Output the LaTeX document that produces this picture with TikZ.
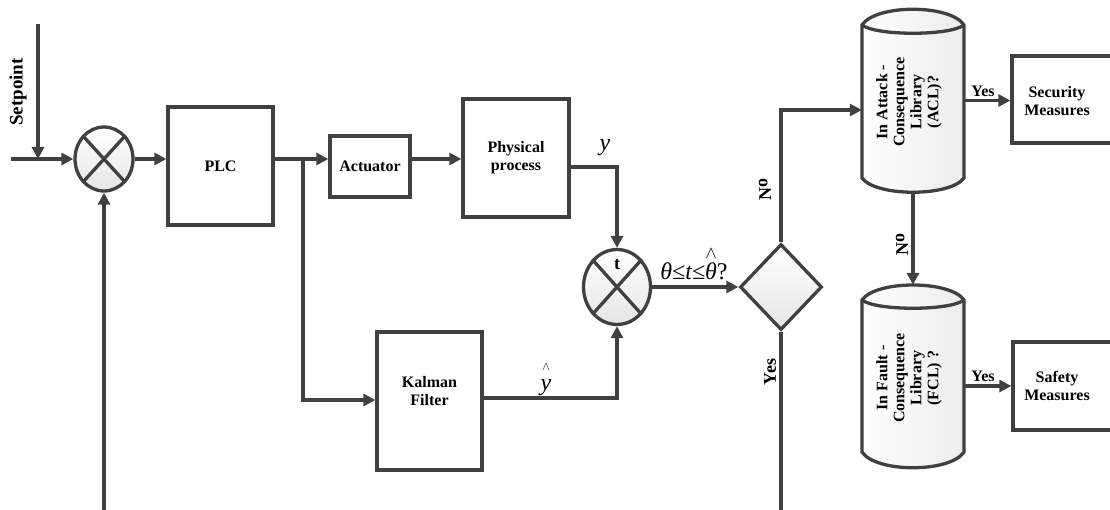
\documentclass[tikz,border=0pt]{standalone}
\usepackage{fontspec}
\setmainfont{Liberation Serif}
\usepackage{amsmath}
\usetikzlibrary{arrows.meta,shapes.geometric,shadows}
\definecolor{ln}{HTML}{404040}
\newcommand\hatover[1]{\ensuremath{\overset{\scriptstyle\wedge}{\text{#1}}}}
\tikzset{
 conn/.style={draw=ln,line width=3.3pt},
 arr/.style={conn,-{Triangle[length=12pt,width=12pt]}},
 blk/.style={rectangle,draw=ln,line width=3.3pt,fill=white,inner sep=0pt,
   drop shadow={shadow xshift=2pt,shadow yshift=-2pt,fill=gray!35,opacity=1},
   font=\bfseries\fontsize{16}{18}\selectfont,align=center},
 lbl/.style={font=\bfseries\fontsize{16}{18}\selectfont,align=center,text=black},
 sumj/.style={ellipse,draw=ln,line width=3.3pt,top color=white,bottom color=gray!20,inner sep=0pt},
 vlab/.style={font=\bfseries\fontsize{18}{20}\selectfont,rotate=90,text=black},
 clab/.style={font=\bfseries\fontsize{16}{17}\selectfont,rotate=90,align=center,text=black},
 mlab/.style={font=\fontsize{24}{26}\selectfont,text=black},
 cylshape/.style={draw=ln,line width=3.3pt,left color=white,right color=gray!15},
 ghost/.style={rectangle,draw=none,inner sep=0pt},
}
\begin{document}
\begin{tikzpicture}[x=1pt,y=1pt]
\useasboundingbox (0,0) rectangle (1110,-510);
\clip (0,0) rectangle (1110,-510);

% ---- summing junction 1 and inputs
\node[sumj,minimum width=58pt,minimum height=64pt] (s1) at (104,-159) {};
\draw[conn] (s1.north west) -- (s1.south east) (s1.north east) -- (s1.south west);
\coordinate (in) at (11,-159);
\coordinate (sp) at (38,-24);
\coordinate (fb) at (104,-515);
\draw[arr] (in) -- (s1.west);
\draw[arr] (sp) -- (sp |- in);
\draw[arr] (fb) -- (s1.south);
\node[font=\bfseries\fontsize{19}{20}\selectfont,rotate=90] (spt) at (18,-92) {Setpoint};

% ---- PLC, actuator, process
\node[blk,minimum width=105pt,minimum height=118pt] (plc) at (220.5,-166) {PLC};
\draw[arr] (s1.east) -- (s1.east -| plc.west);
\coordinate (br) at (303,-159);
\node[blk,minimum width=80pt,minimum height=61pt] (act) at (370,-166.5) {Actuator};
\draw[conn] (plc.east |- br) -- (br);
\draw[arr] (br) -- (br -| act.west);
\node[blk,minimum width=106pt,minimum height=118pt] (phys) at (516,-158) {Physical\\process};
\draw[arr] (act.east |- br) -- (phys.west |- br);

% ---- Kalman filter
\node[blk,minimum width=105pt,minimum height=138pt] (kal) at (429.5,-401) {};
\node[lbl] (kalt) at (429.5,-391) {Kalman\\Filter};
\coordinate (kin) at (303,-400);
\draw[arr] (br) -- (kin) -- (kin -| kal.west);

% ---- summing junction 2
\node[sumj,minimum width=67pt,minimum height=75pt] (s2) at (617,-287) {};
\draw[conn] (s2.north west) -- (s2.south east) (s2.north east) -- (s2.south west);
\node[font=\bfseries\fontsize{18}{18}\selectfont] (tl) at (617,-265) {t};
\draw[arr] ([yshift=-9pt]phys.east) -| (s2.north);
\draw[arr] ([yshift=3pt]kal.east) -| (s2.south);
\node[mlab] (ylab) at (605,-148) {\itshape y};
\node[mlab,align=center] (yhat) at (546,-380) {{\fontsize{12}{10}\selectfont$\wedge$}\\[-6pt]\itshape y};

% ---- decision
\node[diamond,draw=ln,line width=3.3pt,top color=white,bottom color=gray!20,
      minimum width=82pt,minimum height=86pt,inner sep=0pt] (dia) at (781,-287) {};
\draw[arr] (s2.east) -- (dia.west);
\node[mlab,anchor=base] (thl) at (694,-280) {\itshape θ≤t≤\hatover{θ}\upshape ?};
\coordinate (yend) at (781,-515);
\draw[conn] (dia.south) -- (yend);
\node[vlab] (yes1) at (770,-372) {Yes};

% ---- cylinder 1 (ACL)
\node[ghost,minimum width=102pt,minimum height=183pt] (cyl1) at (913,-100.5) {};
\path[cylshape] (862,-25) .. controls (876,-4) and (950,-4) .. (964,-25)
   -- (964,-178) .. controls (950,-197) and (876,-197) .. (862,-178) -- cycle;
\draw[conn] (862,-25) .. controls (876,-36) and (950,-36) .. (964,-25);
\node[clab] (cyl1t) at (909,-102) {In Attack -\\Consequence\\Library\\(ACL)?};
\draw[arr] (dia.north) |- ([yshift=-9.5pt]cyl1.west);
\node[vlab] (no1) at (765,-190) {N\raisebox{0.2em}{o}};

% ---- cylinder 2 (FCL)
\node[ghost,minimum width=102pt,minimum height=183pt] (cyl2) at (913,-376.5) {};
\path[cylshape] (862,-300) .. controls (876,-280) and (950,-280) .. (964,-300)
   -- (964,-452) .. controls (950,-473) and (876,-473) .. (862,-452) -- cycle;
\draw[conn] (862,-300) .. controls (876,-311) and (950,-311) .. (964,-300);
\node[clab] (cyl2t) at (909,-378) {In Fault -\\Consequence\\Library\\(FCL) ?};
\draw[arr] (cyl1.south) -- (cyl2.north);
\node[vlab] (no2) at (902,-245) {N\raisebox{0.2em}{o}};

% ---- measures
\node[blk,minimum width=103pt,minimum height=87pt] (sec) at (1063.5,-99.5) {};
\node[lbl] (sect) at (1057,-101) {Security\\Measures};
\draw[arr] (cyl1.east) -- (cyl1.east -| sec.west);
\node[lbl] (yes2) at (983,-91) {Yes};

\node[blk,minimum width=102pt,minimum height=88pt] (saf) at (1064,-386) {};
\node[lbl] (saft) at (1057,-386) {Safety\\Measures};
\draw[arr] ([yshift=-9.5pt]cyl2.east) -- (saf.west);
\node[lbl] (yes3) at (983,-376) {Yes};
\end{tikzpicture}
\end{document}
